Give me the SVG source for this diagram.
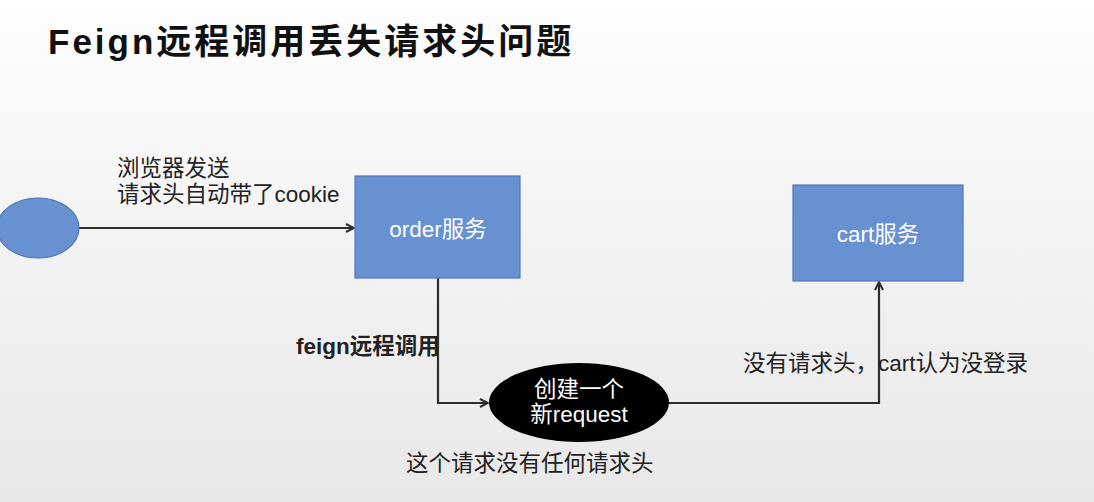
<svg xmlns="http://www.w3.org/2000/svg" width="1094" height="502" viewBox="0 0 1094 502">
  <defs>
    <linearGradient id="bg" x1="0" y1="0" x2="0" y2="1">
      <stop offset="0" stop-color="#ffffff"/>
      <stop offset="0.1" stop-color="#fbfbfb"/>
      <stop offset="1" stop-color="#e8e8e8"/>
    </linearGradient>
    <marker id="arrow" viewBox="0 0 10 10" refX="9" refY="5" markerWidth="10" markerHeight="10" markerUnits="userSpaceOnUse" orient="auto">
      <path d="M1,1 L9,5 L1,9" fill="none" stroke="#2e2e2e" stroke-width="2"/>
    </marker>
    <style>
      .title { font-family: "Liberation Sans", "Noto Sans CJK SC", sans-serif; font-size: 35px; font-weight: bold; fill: #111111; letter-spacing: 3px; }
      .label { font-family: "Liberation Sans", "Noto Sans CJK SC", sans-serif; font-size: 22.5px; fill: #222222; }
      .bold { font-weight: bold; }
      .inner { font-family: "Liberation Sans", "Noto Sans CJK SC", sans-serif; font-size: 22.5px; fill: #ffffff; text-anchor: middle; }
      .service { fill: #6891d2; stroke: #5177b6; stroke-width: 1.2; }
      .link { fill: none; stroke: #2e2e2e; stroke-width: 2.2; marker-end: url(#arrow); }
    </style>
  </defs>

  <rect x="0" y="0" width="1094" height="502" fill="url(#bg)"/>

  <text class="title" x="48" y="54">Feign远程调用丢失请求头问题</text>

  <!-- connectors -->
  <g id="connectors">
    <path class="link" d="M79,228 L354,228"/>
    <path class="link" d="M438,278 L438,403 L488,403"/>
    <path class="link" d="M669,403 L879,403 L879,282"/>
  </g>

  <!-- browser -->
  <g id="browser">
    <ellipse class="service" cx="38" cy="228" rx="41" ry="30"/>
  </g>

  <!-- order service -->
  <g id="order-service">
    <rect class="service" x="355" y="176" width="165" height="102"/>
    <text class="inner" x="438" y="237">order服务</text>
  </g>

  <!-- cart service -->
  <g id="cart-service">
    <rect class="service" x="793" y="185" width="170" height="96"/>
    <text class="inner" x="878" y="242">cart服务</text>
  </g>

  <!-- new request created by feign -->
  <g id="new-request">
    <ellipse cx="579" cy="402.5" rx="90" ry="39.5" fill="#000000"/>
    <text class="inner" x="579" y="397">创建一个</text>
    <text class="inner" x="579" y="422">新request</text>
  </g>

  <!-- labels -->
  <g id="labels">
    <text class="label" x="117" y="176">浏览器发送</text>
    <text class="label" x="117" y="202">请求头自动带了cookie</text>
    <text class="label bold" x="296" y="354">feign远程调用</text>
    <text class="label" x="406" y="471">这个请求没有任何请求头</text>
    <text class="label" x="743" y="371">没有请求头，cart认为没登录</text>
  </g>
</svg>
